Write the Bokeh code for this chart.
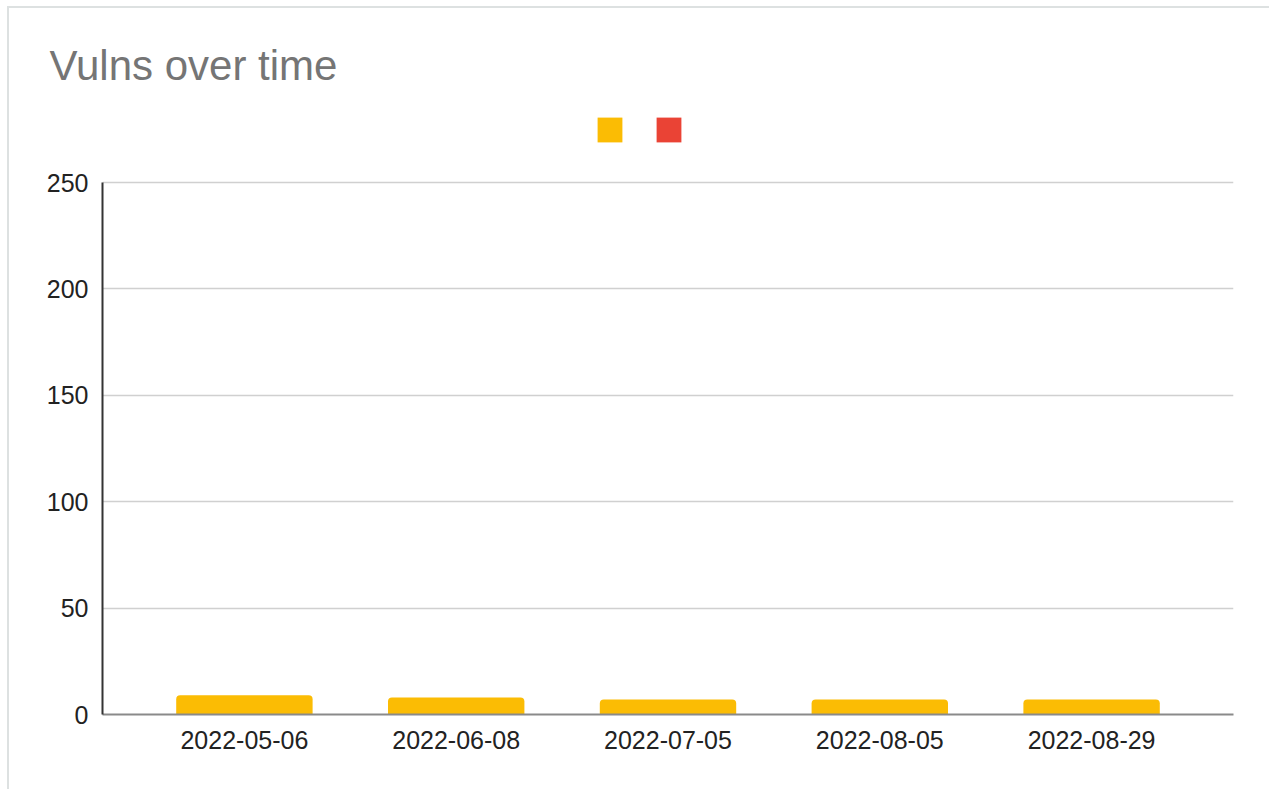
from bokeh.plotting import figure
from bokeh.models import Legend, LegendItem, SingleIntervalTicker, Range1d
from bokeh.embed import file_html
from bokeh.resources import INLINE

# Scan dates and vulnerability counts per severity
dates = ["2022-05-06", "2022-06-08", "2022-07-05", "2022-08-05", "2022-08-29"]
medium = [9, 8, 7, 7, 7]
high = [0, 0, 0, 0, 0]

series = ["medium", "high"]
colors = ["#FBBC04", "#EA4335"]

data = {"date": dates, "medium": medium, "high": high}

FONT = "Liberation Sans"
Y_MAX = 250
# headroom above the value axis holds the series swatches
Y_TOP = 284.8

p = figure(
    x_range=dates,
    y_range=Range1d(0, Y_TOP),
    width=1262, height=783,
    output_backend="svg",
    toolbar_location=None,
    min_border_left=93, min_border_right=38,
    min_border_top=100, min_border_bottom=77,
)
p.margin = (6, 0, 0, 7)
p.styles = {"border-top": "2px solid #dde1e1", "border-left": "2px solid #dde1e1"}
p.x_range.range_padding = 0.068

rs = p.vbar_stack(
    series, x="date", width=0.644, source=data, color=colors,
    line_color=None,
)
for r in rs:
    r.glyph.border_radius = (4, 4, 0, 0)

p.title.text = "Vulns over time"
p.title.text_font = FONT
p.title.text_font_size = "42px"
p.title.text_font_style = "normal"
p.title.text_color = "#757575"
p.title.offset = -53
p.title.standoff = 39

p.outline_line_color = None
p.xgrid.grid_line_color = None
p.ygrid.grid_line_color = "#d0d0d0"
p.ygrid.grid_line_width = 1.5

p.yaxis.ticker = SingleIntervalTicker(interval=50)
p.yaxis.bounds = (0, Y_MAX)
for ax in (p.xaxis, p.yaxis):
    ax.major_tick_line_color = None
    ax.minor_tick_line_color = None
    ax.major_label_text_font = FONT
    ax.major_label_text_font_size = "25px"
    ax.major_label_text_color = "#222222"
p.yaxis.axis_line_color = "#333333"
p.yaxis.axis_line_width = 2
p.yaxis.major_label_standoff = 8
p.xaxis.axis_line_color = "#8a8a8a"
p.xaxis.axis_line_width = 2
p.xaxis.major_label_standoff = 10

# Series swatches sit centred above the value axis
legend = Legend(
    items=[LegendItem(label="", renderers=[r]) for r in rs],
    location=(492, 569),
    orientation="horizontal",
    glyph_width=31, glyph_height=31,
    label_width=0, label_standoff=0,
    spacing=28, padding=0, margin=0,
    border_line_color=None, background_fill_alpha=0,
)
p.add_layout(legend, "center")

open("out.html", "w").write(file_html(p, INLINE))
